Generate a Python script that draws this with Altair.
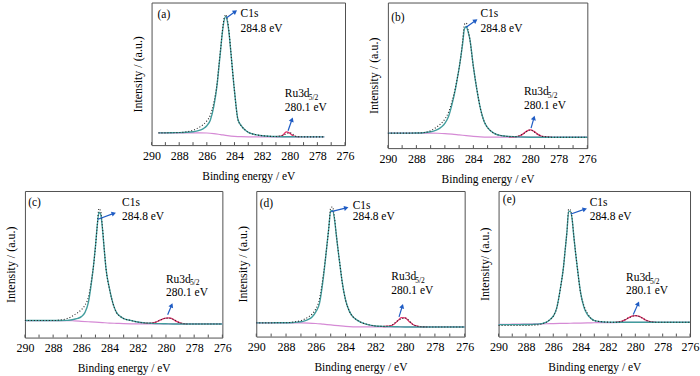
import math
import altair as alt
import pandas as pd

# ---------------- data ----------------
X_FIT = [290, 289.5, 289, 288.5, 288, 287.5, 287, 286.75, 286.5, 286.25, 286, 285.75, 285.5, 285.25,
         285.125, 285, 284.875, 284.75, 284.625, 284.5, 284.375, 284.25, 284, 283.75, 283.5, 283.25,
         283, 282.5, 282, 281.5, 281, 280.5, 280, 279.5, 279, 278.5, 278, 277.5, 277, 276.5, 276]
X_BG = [290, 289.5, 289, 288, 287, 286.5, 286, 285.5, 285, 284.5, 284, 283.5, 283, 282, 281, 280,
        279, 278, 277.5, 277, 276]
X_RU = [281.5, 281.25, 281, 280.75, 280.5, 280.25, 280, 279.75, 279.5, 279.25, 279, 278.75, 278.5]
X_LABELS = [290, 288, 286, 284, 282, 280, 278, 276]
X_TICKS = [290, 289, 288, 287, 286, 285, 284, 283, 282, 281, 280, 279, 278, 277, 276]

# panel (a)
A_FIT = [None, 8.6, 8.6, 8.7, 8.8, 9.0, 9.4, 9.8, 10.5, 11.6, 13.6, 17.5, 27, 43, 55, 67, 79, 87.5, 90.3,
         86, 77, 64, 38, 18, 13.5, 10.8, 9.0, 7.4, 6.6, 6.2, 6.0, 5.9, 5.9, 5.8, 5.8, 5.8, 5.8, 5.8,
         None, None, None]
A_RAW = [None, 8.6, 8.6, 8.7, 8.8, 9.3, 10.5, 11.5, 12.8, 14.5, 17, 21, 29.5, 44, 56, 68, 80, 89, 91.5,
         87, 77.5, 64, 38, 18, 13.5, 10.8, 9.0, 7.4, 6.6, 6.2, 6.0, 6.9, 8.7, 6.0, 5.8, 5.8, 5.8, 5.8,
         None, None, None]
A_BG = [None, 8.6, 8.6, 8.6, 8.6, 8.6, 8.5, 8.1, 7.4, 6.7, 6.2, 5.9, 5.8, 5.8, 5.8, 5.8, 5.8, 5.8, 5.8,
        None, None]
A_RU = [None, None, 6.0, 6.1, 6.9, 9.3, 8.4, 6.6, 6.0, 5.9, None, None, None]

# panel (b)
B_FIT = [10.3, 10.3, 10.3, 10.3, 10.4, 10.6, 11.2, 11.8, 12.8, 14.5, 17, 21.5, 30, 41, 48, 55, 63, 72,
         82, 83.5, 80, 75, 56, 40, 27, 18.5, 14, 10, 8.5, 8.0, 7.8, 7.6, 7.5, 7.5, 7.5, 7.5, 7.5, 7.5,
         7.5, 7.5, 7.5]
B_RAW = [10.3, 10.3, 10.3, 10.3, 10.4, 10.6, 12.0, 13.3, 15, 17, 20, 24.5, 32, 42, 48, 55, 63, 74,
         85, 86, 81.5, 75, 56, 40, 27, 18.5, 14, 10, 8.5, 8.0, 7.9, 9.8, 12.5, 9.6, 7.8, 7.5, 7.5, 7.5,
         7.5, 7.5, 7.5]
B_BG = [10.3, 10.3, 10.3, 10.3, 10.3, 10.2, 10.0, 9.6, 9.1, 8.6, 8.1, 7.7, 7.5, 7.5, 7.5, 7.5, 7.5,
        7.5, 7.5, 7.5, 7.5]
B_RU = [7.6, 7.7, 7.9, 8.5, 9.8, 11.7, 12.5, 11.5, 9.6, 8.3, 7.8, 7.6, 7.5]

# panel (c)
C_FIT = [11.6, 11.6, 11.6, 11.6, 11.6, 11.6, 11.7, 12.0, 12.5, 13.1, 14.3, 17, 24, 40, 50, 62, 76,
         85.5, 84, 74, 60, 47, 33, 23, 17, 14.5, 13.0, 11.7, 10.6, 10.0, 9.7, 9.5, 9.4, 9.3, 9.3, 9.3,
         9.3, 9.3, 9.3, 9.3, 9.3]
C_RAW = [11.6, 11.6, 11.6, 11.6, 11.6, 12.0, 13, 14, 15.5, 17, 19, 22, 27.5, 41, 50, 62, 76, 88, 86,
         75, 60, 47, 33, 23, 17, 14.5, 13.0, 11.7, 10.6, 10.0, 9.9, 11.5, 13.3, 12.5, 10.0, 9.3, 9.3,
         9.3, 9.3, 9.3, 9.3]
C_BG = [11.6, 11.6, 11.6, 11.6, 11.6, 11.4, 11.1, 10.8, 10.5, 10.2, 9.9, 9.7, 9.5, 9.3, 9.3, 9.3, 9.3,
        9.3, 9.3, 9.3, 9.3]
C_RU = [9.7, 9.7, 9.9, 10.4, 11.5, 12.6, 13.3, 13.4, 12.5, 11.0, 10.0, 9.5, 9.3]

# panel (d)
D_FIT = [9.4, 9.4, 9.4, 9.5, 9.5, 9.7, 10.2, 10.8, 11.8, 13.5, 17, 23, 40, 63, 75, 86.5, 86.5, 81, 70,
         59, 49, 39, 25, 17.5, 13.5, 11.5, 10, 8.2, 7.3, 7.0, 6.8, 6.7, 6.6, 6.6, 6.6, 6.6, 6.6, 6.6,
         6.6, 6.6, 6.6]
D_RAW = [9.4, 9.4, 9.4, 9.5, 9.5, 10.0, 11.0, 12.0, 13.5, 15.5, 19, 26, 42, 63, 75, 88.5, 89, 82, 70,
         59, 49, 39, 25, 17.5, 13.5, 11.5, 10, 8.2, 7.3, 7.0, 7.4, 10.8, 12.8, 8.5, 6.8, 6.6, 6.6, 6.6,
         6.6, 6.6, 6.6]
D_BG = [9.4, 9.4, 9.4, 9.4, 9.4, 9.3, 9.0, 8.5, 8.0, 7.5, 7.0, 6.7, 6.6, 6.6, 6.6, 6.6, 6.6, 6.6, 6.6,
        6.6, 6.6]
D_RU = [6.9, 7.1, 7.4, 8.5, 10.8, 13.0, 12.8, 10.6, 8.5, 7.3, 6.8, 6.6, 6.6]

# panel (e)
E_FIT = [8.2, 8.2, 8.2, 8.2, 8.3, 8.4, 8.7, 9.1, 9.9, 11.6, 14.0, 19.5, 32, 48, 60, 72, 86, 86, 81, 69,
         58, 48, 30, 20, 15, 12.5, 11, 10.2, 9.9, 9.8, 9.8, 9.8, 9.8, 9.8, 9.8, 9.8, 9.8, 9.8, 9.8,
         9.8, 9.8]
E_RAW = [7.6, 7.6, 7.6, 7.6, 7.6, 7.8, 8.3, 9.0, 9.9, 11.6, 14.0, 19.5, 32, 48, 60, 72, 87.5, 87, 81,
         69, 58, 48, 30, 21, 16, 12.5, 11, 10.2, 9.9, 9.8, 10.5, 12.8, 14.4, 12.8, 10.4, 9.8, 9.8, 9.8,
         9.8, 9.8, 9.8]
E_BG = [8.4, 8.4, 8.5, 8.6, 8.7, 8.8, 8.9, 9.0, 9.1, 9.2, 9.3, 9.4, 9.5, 9.6, 9.7, 9.7, 9.7, 9.7, 9.7,
        9.7, 9.7]
E_RU = [9.8, 10.0, 10.5, 11.5, 12.8, 14.0, 14.4, 14.0, 12.8, 11.4, 10.4, 10.0, 9.8]

# annotation anchors (binding energy, intensity)
LETTERS = ["(a)", "(b)", "(c)", "(d)", "(e)"]
LETTER_AT = [(289.57, 90.9), (289.77, 89.7), (289.77, 91.8), (289.77, 91.0), (289.69, 93.8)]
C1S_TEXT = ["C1s", "284.8 eV"]
C1S_AT = [(283.56, 91.6, 81.3), (283.5, 92.0, 81.7), (283.11, 91.6, 82.5), (283.52, 90.0, 82.0),
          (283.34, 91.6, 82.4)]
C1S_ARROW = [(284.59, 89.2, 283.8, 94.7), (284.53, 82.9, 283.7, 88.6), (284.82, 80.7, 283.53, 85.3),
             (284.97, 85.8, 283.79, 88.8), (284.71, 84.2, 283.52, 88.1)]
RU_TEXT = ["Ru3d", "5/2", "280.1 eV"]
RU_AT = [(280.36, 35.7, 26.1), (280.45, 38.4, 29.2), (280.0, 39.5, 30.4), (280.93, 40.9, 31.0),
         (280.68, 40.2, 31.0)]
RU_ARROW = [(280.12, 10.1, 279.78, 19.6), (279.95, 13.7, 279.7, 22.4), (279.88, 15.6, 279.53, 23.6),
            (280.41, 13.5, 280.14, 22.6), (280.15, 15.1, 279.72, 24.2)]
Y_TITLES = ["Intensity / (a.u.)"] * 4 + ["Intensity/ (a.u.)"]

# ---------------- styling / layout ----------------
FONT = "Liberation Serif"
TEAL = "#419d9d"
PINK = "#d58ad5"
RED = "#e2306a"
BLUE = "#1f5cc4"
SIZES = [(194, 143), (200, 146), (198, 147), (209, 146), (192, 146)]


def panel(i, fit, raw, bg, ru):
    w, h = SIZES[i]
    xenc = alt.X("e:Q",
                 scale=alt.Scale(domain=[276, 290], reverse=True, nice=False, zero=False),
                 axis=alt.Axis(values=X_LABELS, format="d", title="Binding energy / eV", grid=False,
                               ticks=False, domain=False, labelPadding=5, titlePadding=9,
                               labelFlush=False, labelOverlap=False,
                               labelFontSize=12, titleFontSize=11.5, labelFont=FONT, titleFont=FONT,
                               labelColor="black", titleColor="black", titleFontWeight="normal"))
    yenc = alt.Y("v:Q", scale=alt.Scale(domain=[0, 100], nice=False, zero=False),
                 axis=alt.Axis(labels=False, ticks=False, domain=False, grid=False,
                               title=Y_TITLES[i], titlePadding=7, titleFontSize=12, titleFont=FONT,
                               titleColor="black", titleFontWeight="normal"))

    def line_df(xs, ys):
        d = pd.DataFrame({"e": xs, "v": ys})
        return d.dropna()

    bg_l = alt.Chart(line_df(X_BG, bg)).mark_line(color=PINK, strokeWidth=1.2, interpolate="monotone").encode(x=xenc, y=yenc)
    ru_l = alt.Chart(line_df(X_RU, ru)).mark_line(color=RED, strokeWidth=1.3, interpolate="monotone").encode(x=xenc, y=yenc)
    fit_l = alt.Chart(line_df(X_FIT, fit)).mark_line(color=TEAL, strokeWidth=1.4, interpolate="monotone").encode(x=xenc, y=yenc)
    raw_l = alt.Chart(line_df(X_FIT, raw)).mark_line(color="#222222", strokeWidth=1.1, strokeDash=[1, 2],
                                                     interpolate="monotone").encode(x=xenc, y=yenc)

    # inward ticks along the bottom
    tick_len = 3.0 * 100 / h
    ticks = alt.Chart(pd.DataFrame({"e": X_TICKS, "v": [0] * len(X_TICKS),
                                    "v2": [tick_len] * len(X_TICKS)})).mark_rule(
        color="#505050", strokeWidth=1).encode(x=xenc, y=yenc, y2="v2:Q")

    # arrows
    rows = []
    heads = []
    for (e1, v1, e2, v2) in (C1S_ARROW[i], RU_ARROW[i]):
        dx = (e1 - e2) * w / 14.0
        dy = (v2 - v1) * h / 100.0
        ang = math.degrees(math.atan2(dx, dy)) % 360
        back = 2.5
        ec = e2 + back * math.sin(math.radians(ang)) * 14.0 / w
        vc = v2 - back * math.cos(math.radians(ang)) * 100.0 / h
        rows.append({"e": e1, "v": v1, "e2": ec, "v2": vc})
        heads.append({"e": ec, "v": vc, "ang": ang})
    arr = alt.Chart(pd.DataFrame(rows)).mark_rule(color=BLUE, strokeWidth=1.2).encode(
        x=xenc, y=yenc, x2="e2:Q", y2="v2:Q")
    hd = alt.Chart(pd.DataFrame(heads)).mark_point(shape="triangle-up", filled=True, size=26,
                                                   color=BLUE, opacity=1).encode(
        x=xenc, y=yenc, angle=alt.Angle("ang:Q", scale=None))

    # texts
    ce, cv1, cv2 = C1S_AT[i]
    re_, rv1, rv2 = RU_AT[i]
    sub_e = re_ - 24.0 * 14.0 / w
    sub_v = rv1 - 3.5 * 100.0 / h
    lx, ly = LETTER_AT[i]
    tdf = pd.DataFrame({
        "e": [ce, ce, re_, re_, lx],
        "v": [cv1, cv2, rv1, rv2, ly],
        "t": [C1S_TEXT[0], C1S_TEXT[1], RU_TEXT[0], RU_TEXT[2], LETTERS[i]],
    })
    txt = alt.Chart(tdf).mark_text(align="left", baseline="middle", font=FONT, fontSize=11.5,
                                   color="black").encode(x=xenc, y=yenc, text="t:N")
    sub = alt.Chart(pd.DataFrame({"e": [sub_e], "v": [sub_v], "t": [RU_TEXT[1]]})).mark_text(
        align="left", baseline="middle", font=FONT, fontSize=7.5, color="black").encode(
        x=xenc, y=yenc, text="t:N")

    return alt.layer(ticks, bg_l, ru_l, fit_l, raw_l, arr, hd, txt, sub).properties(width=w, height=h)


spacer = alt.Chart(pd.DataFrame({"e": [0]})).mark_point(opacity=0).encode(
    x=alt.X("e:Q", axis=None), y=alt.Y("e:Q", axis=None)
).properties(width=84, height=10, view=alt.ViewBackground(stroke="transparent"))

pa = panel(0, A_FIT, A_RAW, A_BG, A_RU)
pb = panel(1, B_FIT, B_RAW, B_BG, B_RU)
pc = panel(2, C_FIT, C_RAW, C_BG, C_RU)
pd_ = panel(3, D_FIT, D_RAW, D_BG, D_RU)
pe = panel(4, E_FIT, E_RAW, E_BG, E_RU)

row1 = alt.hconcat(spacer, pa, pb, spacing=43, bounds="flush")
row2 = alt.hconcat(pc, pd_, pe, spacing=34, bounds="flush")

chart = alt.vconcat(row1, row2, spacing=5).properties(
    padding={"left": 4, "top": 1, "right": 0, "bottom": 0},
    background="white",
).configure(font=FONT).configure_view(stroke="#505050", strokeWidth=1)

chart.save("out.html", embed_options={"renderer": "svg", "actions": False})
